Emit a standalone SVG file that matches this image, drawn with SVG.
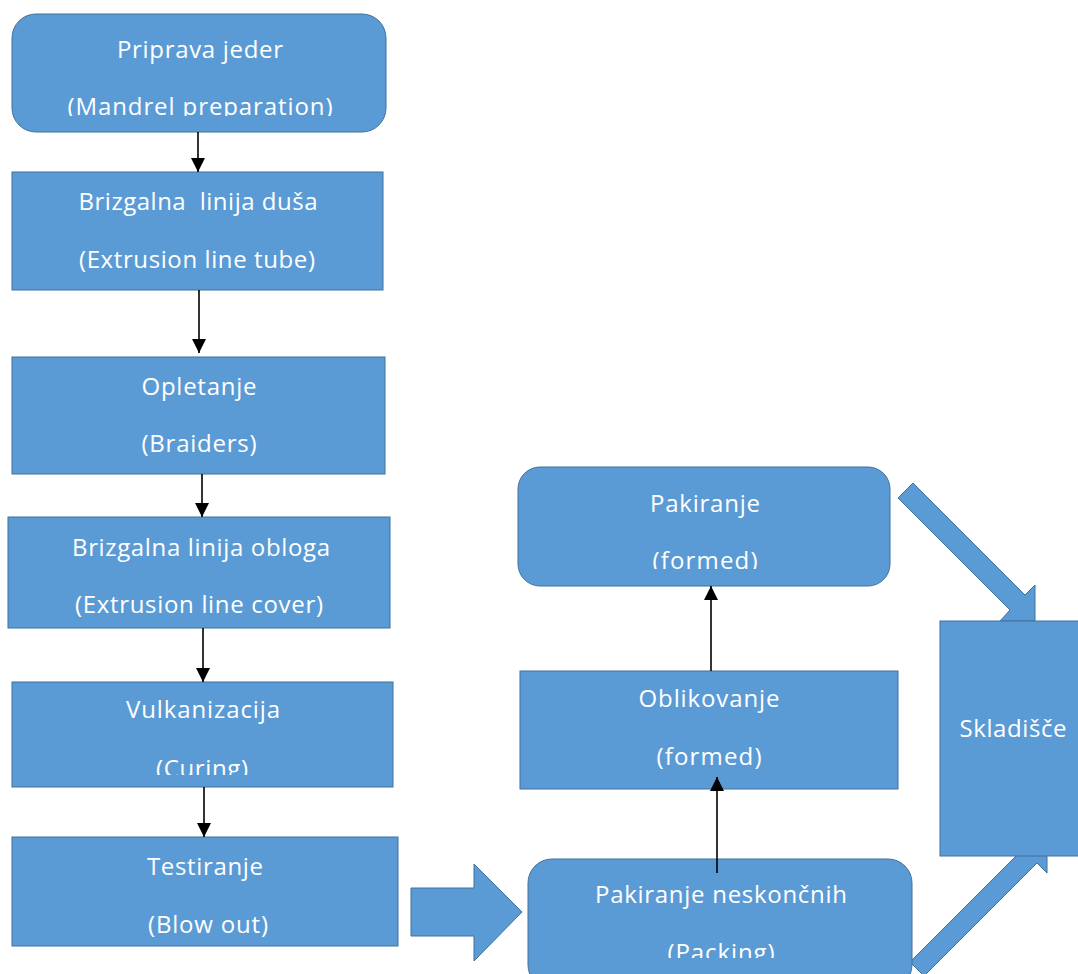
<svg xmlns="http://www.w3.org/2000/svg" width="1078" height="974" viewBox="0 0 1078 974">
<style>
.box{fill:#5B9BD5;stroke:#41719C;stroke-width:1}
.blk{fill:#5B9BD5;stroke:#41719C;stroke-width:1}
.t{font-family:"Open Sans","Noto Sans",sans-serif;font-size:24px;fill:#FFFFFF;text-anchor:middle}
.c{stroke:#000;stroke-width:1.6;fill:none}
</style>
<defs>
<marker id="ah" markerUnits="userSpaceOnUse" markerWidth="14" markerHeight="14" refX="14" refY="7" orient="auto">
<path d="M0,0 L14,7 L0,14 z" fill="#000"/>
</marker>
<clipPath id="cl1"><rect x="0" y="0" width="400" height="116"/></clipPath>
<clipPath id="cl5"><rect x="0" y="700" width="400" height="75"/></clipPath>
<clipPath id="clP"><rect x="500" y="480" width="400" height="89"/></clipPath>
<clipPath id="clN"><rect x="520" y="870" width="400" height="88"/></clipPath>
</defs>

<g id="block-arrows">
<polygon class="blk" points="411,888 474,888 474,864 522,912 474,961 474,936 411,936"/>
<polygon class="blk" points="913,483 1025,595 1035,585 1035,621 1000,621 1010,610 898,498"/>
<polygon class="blk" points="910,962 1023,849 1013,839 1047,839 1047,873 1037,863 924,976"/>
</g>

<g id="n1">
<rect class="box" x="12" y="14" width="374" height="118" rx="24"/>
<text class="t" x="200" y="58" textLength="166" lengthAdjust="spacing">Priprava jeder</text>
<text class="t" x="200" y="115" textLength="265" lengthAdjust="spacing" clip-path="url(#cl1)">(Mandrel preparation)</text>
</g>
<g id="n2">
<rect class="box" x="12" y="172" width="371" height="118"/>
<text class="t" x="198" y="210" textLength="239" lengthAdjust="spacing" xml:space="preserve">Brizgalna  linija duša</text>
<text class="t" x="197" y="268" textLength="236" lengthAdjust="spacing">(Extrusion line tube)</text>
</g>
<g id="n3">
<rect class="box" x="12" y="357" width="373" height="117"/>
<text class="t" x="199" y="395" textLength="115" lengthAdjust="spacing">Opletanje</text>
<text class="t" x="199" y="452" textLength="115" lengthAdjust="spacing">(Braiders)</text>
</g>
<g id="n4">
<rect class="box" x="8" y="517" width="382" height="111"/>
<text class="t" x="201" y="556" textLength="258" lengthAdjust="spacing">Brizgalna linija obloga</text>
<text class="t" x="199" y="613" textLength="248" lengthAdjust="spacing">(Extrusion line cover)</text>
</g>
<g id="n5">
<rect class="box" x="12" y="682" width="381" height="105"/>
<text class="t" x="203" y="718" textLength="154" lengthAdjust="spacing">Vulkanizacija</text>
<text class="t" x="202" y="777" textLength="92" lengthAdjust="spacing" clip-path="url(#cl5)">(Curing)</text>
</g>
<g id="n6">
<rect class="box" x="12" y="837" width="386" height="109"/>
<text class="t" x="205" y="875" textLength="116" lengthAdjust="spacing">Testiranje</text>
<text class="t" x="208" y="933" textLength="120" lengthAdjust="spacing">(Blow out)</text>
</g>
<g id="n7">
<rect class="box" x="528" y="859" width="384" height="130" rx="24"/>
<text class="t" x="721" y="903" textLength="252" lengthAdjust="spacing">Pakiranje neskončnih</text>
<text class="t" x="721" y="961" textLength="107" lengthAdjust="spacing" clip-path="url(#clN)">(Packing)</text>
</g>
<g id="n8">
<rect class="box" x="520" y="671" width="378" height="118"/>
<text class="t" x="709" y="707" textLength="141" lengthAdjust="spacing">Oblikovanje</text>
<text class="t" x="709" y="765" textLength="105" lengthAdjust="spacing">(formed)</text>
</g>
<g id="n9">
<rect class="box" x="518" y="467" width="372" height="119" rx="22"/>
<text class="t" x="705" y="512" textLength="110" lengthAdjust="spacing">Pakiranje</text>
<text class="t" x="705" y="569" textLength="105" lengthAdjust="spacing" clip-path="url(#clP)">(formed)</text>
</g>
<g id="n10">
<rect class="box" x="940" y="621" width="150" height="235"/>
<text class="t" x="1013" y="737" textLength="107" lengthAdjust="spacing">Skladišče</text>
</g>

<g id="connectors">
<line class="c" x1="198" y1="132" x2="198" y2="172" marker-end="url(#ah)"/>
<line class="c" x1="199" y1="290" x2="199" y2="353" marker-end="url(#ah)"/>
<line class="c" x1="202" y1="474" x2="202" y2="517" marker-end="url(#ah)"/>
<line class="c" x1="203" y1="628" x2="203" y2="682" marker-end="url(#ah)"/>
<line class="c" x1="204" y1="787" x2="204" y2="837" marker-end="url(#ah)"/>
<line class="c" x1="717" y1="873" x2="717" y2="777" marker-end="url(#ah)"/>
<line class="c" x1="711" y1="671" x2="711" y2="586" marker-end="url(#ah)"/>
</g>
</svg>
